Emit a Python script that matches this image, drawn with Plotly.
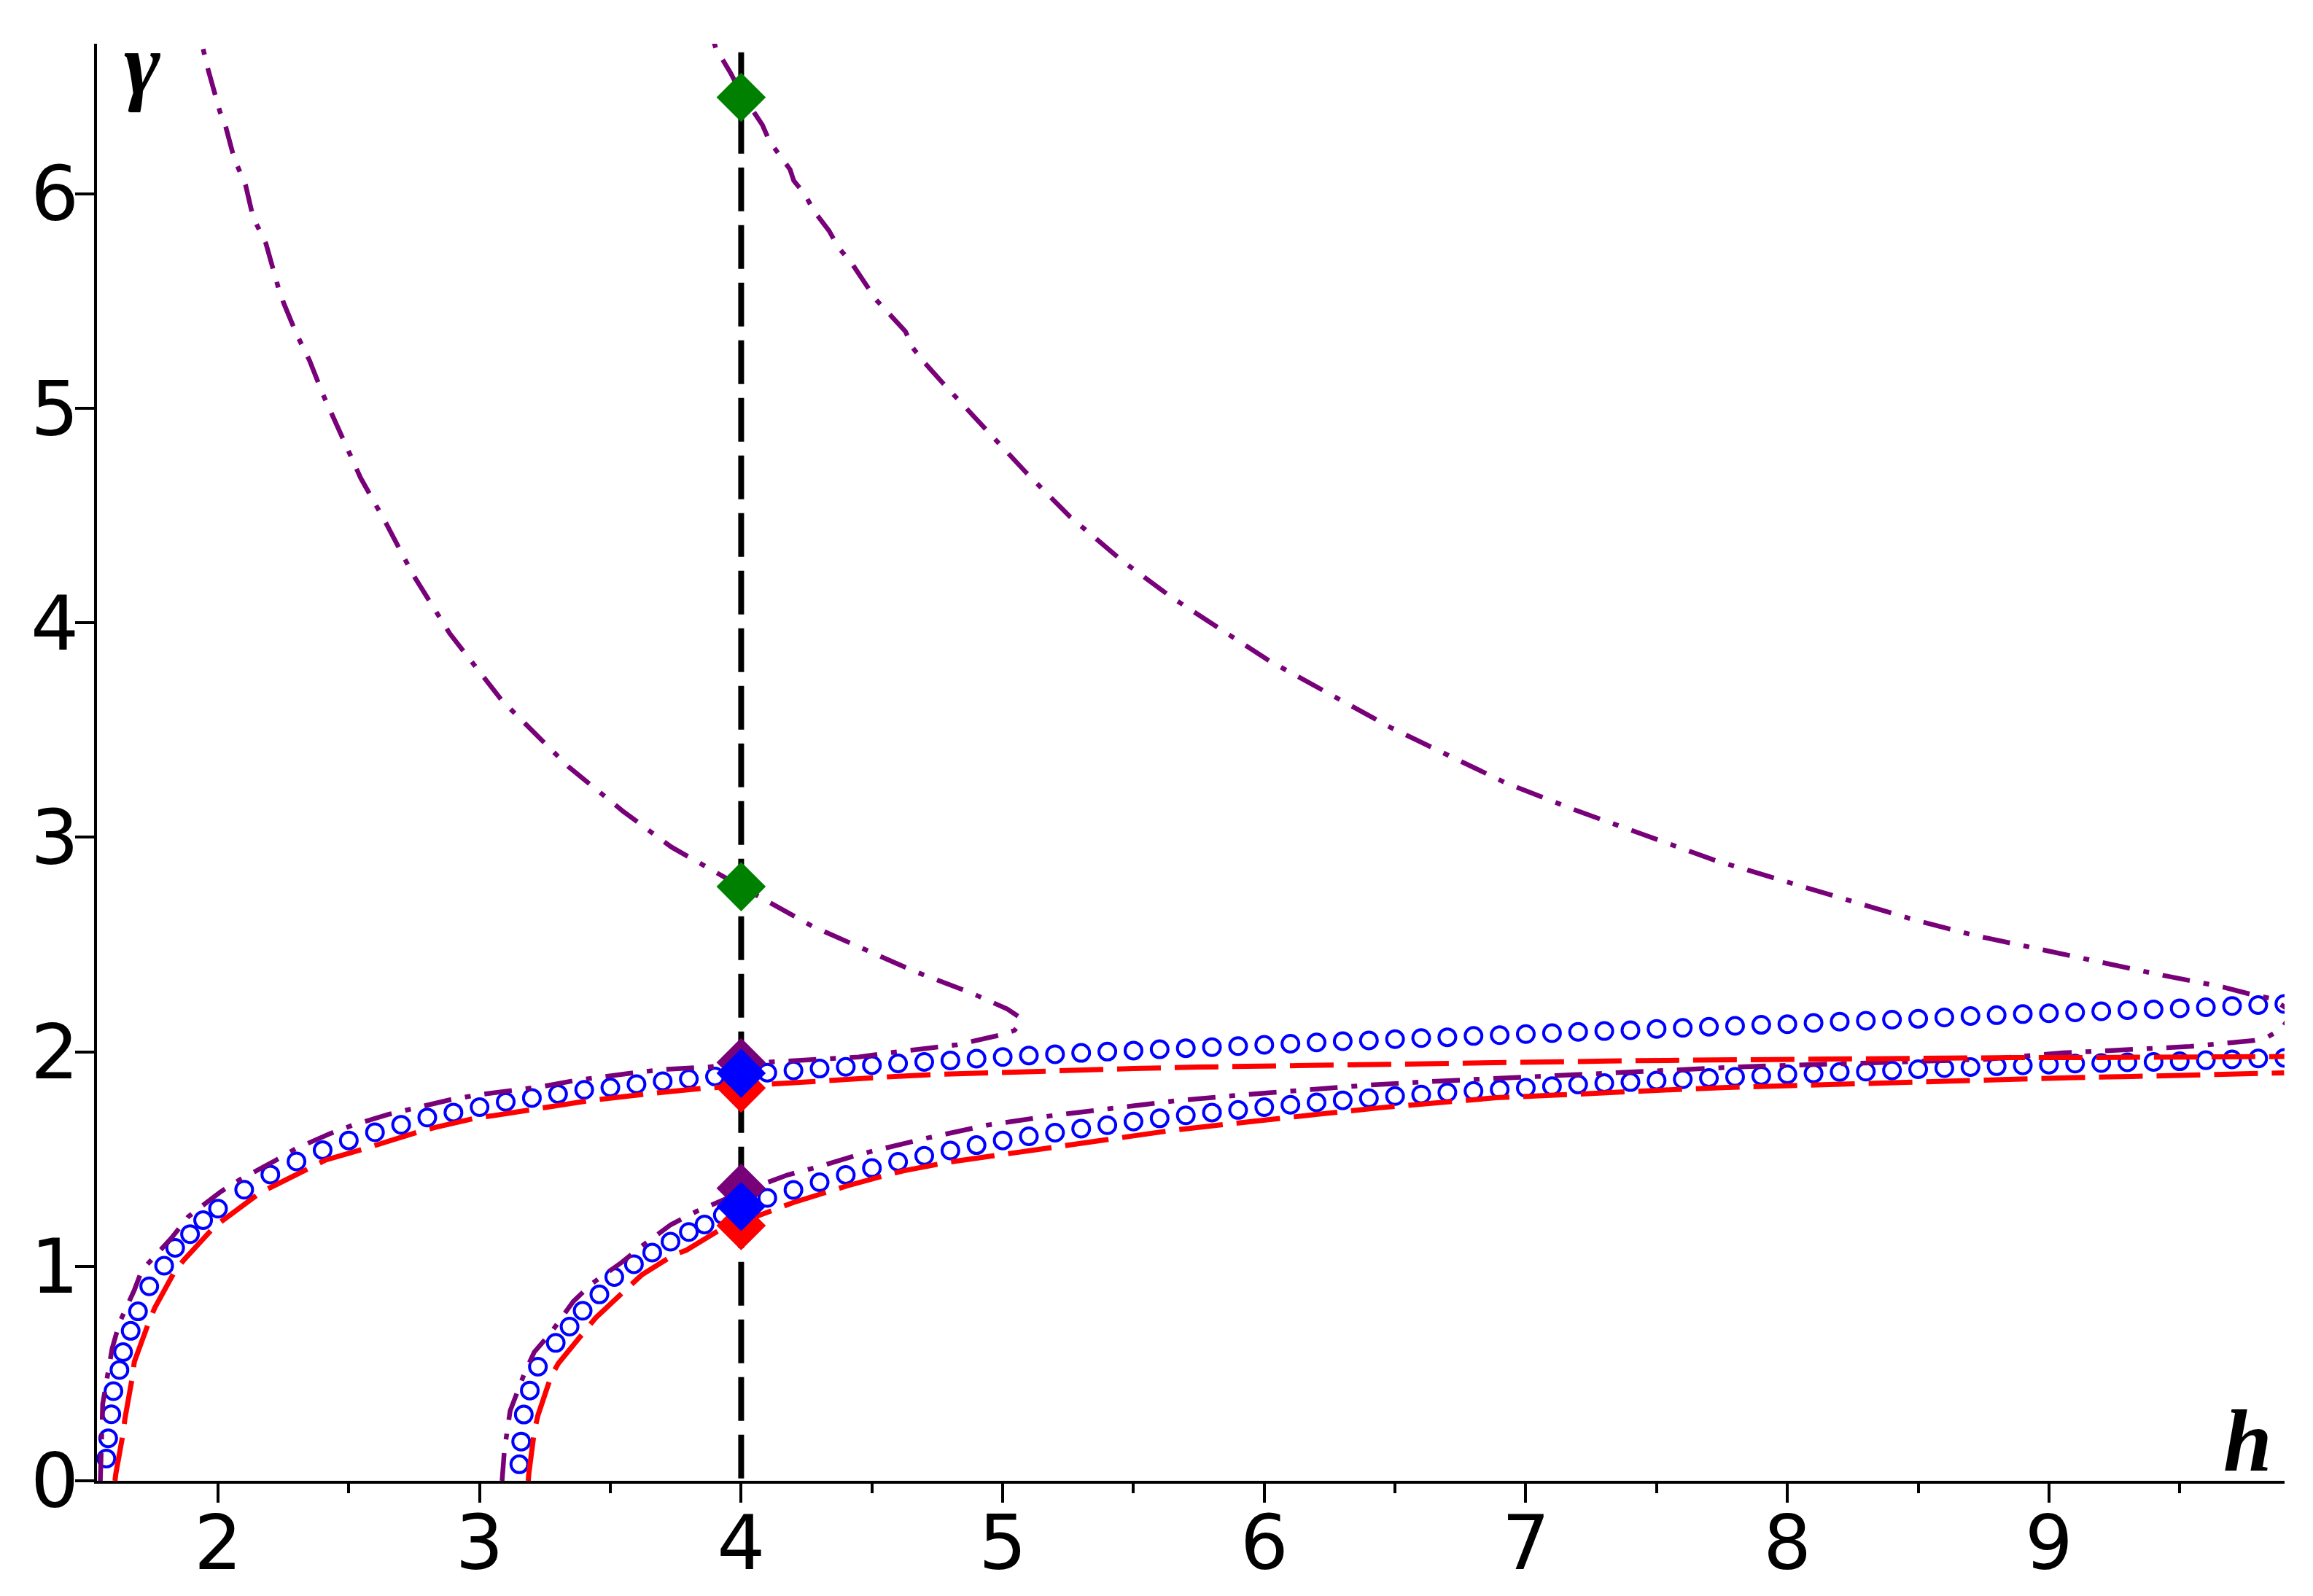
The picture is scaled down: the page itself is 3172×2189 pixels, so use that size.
import plotly.graph_objects as go

# ---------------- data ----------------
# blue open circles, branch 1
H_BLUE1 = [1.573, 1.580, 1.592, 1.600, 1.623, 1.637, 1.666, 1.694, 1.737, 1.794, 1.836, 1.893, 1.943,
           2.0, 2.1, 2.2, 2.3, 2.4, 2.5, 2.6, 2.7, 2.8, 2.9,
           3.0, 3.1, 3.2, 3.3, 3.4, 3.5, 3.6, 3.7, 3.8, 3.9,
           4.0, 4.1, 4.2, 4.3, 4.4, 4.5, 4.6, 4.7, 4.8, 4.9,
           5.0, 5.1, 5.2, 5.3, 5.4, 5.5, 5.6, 5.7, 5.8, 5.9,
           6.0, 6.1, 6.2, 6.3, 6.4, 6.5, 6.6, 6.7, 6.8, 6.9,
           7.0, 7.1, 7.2, 7.3, 7.4, 7.5, 7.6, 7.7, 7.8, 7.9,
           8.0, 8.1, 8.2, 8.3, 8.4, 8.5, 8.6, 8.7, 8.8, 8.9,
           9.0, 9.1, 9.2, 9.3, 9.4, 9.5, 9.6, 9.7, 9.8, 9.9]
G_BLUE1 = [0.104, 0.198, 0.310, 0.418, 0.517, 0.600, 0.699, 0.790, 0.907, 1.003, 1.086, 1.150, 1.215,
           1.269, 1.357, 1.428, 1.489, 1.542, 1.587, 1.625, 1.660, 1.694, 1.717,
           1.742, 1.767, 1.785, 1.803, 1.823, 1.834, 1.849, 1.863, 1.874, 1.885,
           1.895, 1.903, 1.913, 1.922, 1.930, 1.938, 1.946, 1.953, 1.960, 1.968,
           1.976, 1.983, 1.989, 1.995, 2.001, 2.006, 2.012, 2.017, 2.022, 2.027,
           2.033, 2.038, 2.044, 2.050, 2.053, 2.059, 2.064, 2.068, 2.074, 2.078,
           2.083, 2.087, 2.093, 2.097, 2.101, 2.107, 2.112, 2.117, 2.121, 2.126,
           2.129, 2.135, 2.141, 2.145, 2.150, 2.154, 2.160, 2.167, 2.171, 2.176,
           2.180, 2.184, 2.189, 2.194, 2.198, 2.203, 2.208, 2.214, 2.218, 2.223]

# blue open circles, branch 2
H_BLUE2 = [3.152, 3.159, 3.169, 3.192, 3.223, 3.291, 3.344, 3.394, 3.458, 3.515, 3.590, 3.660, 3.730, 3.800, 3.860, 3.930,
           4.0, 4.1, 4.2, 4.3, 4.4, 4.5, 4.6, 4.7, 4.8, 4.9,
           5.0, 5.1, 5.2, 5.3, 5.4, 5.5, 5.6, 5.7, 5.8, 5.9,
           6.0, 6.1, 6.2, 6.3, 6.4, 6.5, 6.6, 6.7, 6.8, 6.9,
           7.0, 7.1, 7.2, 7.3, 7.4, 7.5, 7.6, 7.7, 7.8, 7.9,
           8.0, 8.1, 8.2, 8.3, 8.4, 8.5, 8.6, 8.7, 8.8, 8.9,
           9.0, 9.1, 9.2, 9.3, 9.4, 9.5, 9.6, 9.7, 9.8, 9.9]
G_BLUE2 = [0.077, 0.183, 0.309, 0.421, 0.532, 0.643, 0.719, 0.793, 0.869, 0.950, 1.010, 1.064, 1.115, 1.160, 1.195, 1.239,
           1.279, 1.319, 1.356, 1.392, 1.426, 1.458, 1.487, 1.515, 1.540, 1.565,
           1.587, 1.606, 1.623, 1.642, 1.658, 1.675, 1.690, 1.704, 1.717, 1.729,
           1.742, 1.753, 1.764, 1.774, 1.784, 1.794, 1.801, 1.811, 1.818, 1.825,
           1.832, 1.840, 1.848, 1.854, 1.859, 1.866, 1.872, 1.878, 1.883, 1.888,
           1.895, 1.899, 1.906, 1.908, 1.913, 1.919, 1.924, 1.929, 1.933, 1.937,
           1.940, 1.945, 1.948, 1.951, 1.953, 1.956, 1.961, 1.965, 1.969, 1.972]

# red dashed, branch 1
H_RED1 = [1.606, 1.609, 1.637, 1.644, 1.673, 1.680, 1.737, 1.758, 1.836, 1.872, 1.986, 2.028, 2.163, 2.213,
          2.356, 2.412, 2.562, 2.619, 2.775, 2.832, 2.996, 3.045, 3.209, 3.266, 3.422, 3.486, 3.607, 3.703,
          3.866, 4.000, 4.140, 4.307, 4.450, 4.600, 4.750, 5.000, 5.250, 5.500, 5.750, 6.000, 6.210, 6.430,
          6.650, 6.870, 7.090, 7.314, 7.534, 7.754, 7.974, 8.195, 8.416, 8.668, 8.860, 9.080, 9.300, 9.520,
          9.740, 9.900]
G_RED1 = [0.000, 0.031, 0.221, 0.289, 0.487, 0.555, 0.745, 0.806, 0.980, 1.033, 1.185, 1.223, 1.345, 1.375,
          1.466, 1.496, 1.549, 1.572, 1.630, 1.648, 1.694, 1.701, 1.732, 1.747, 1.773, 1.782, 1.800, 1.812,
          1.831, 1.842, 1.851, 1.863, 1.874, 1.886, 1.895, 1.905, 1.914, 1.922, 1.929, 1.934, 1.940, 1.944,
          1.948, 1.951, 1.955, 1.957, 1.960, 1.963, 1.966, 1.968, 1.969, 1.970, 1.973, 1.973, 1.975, 1.976,
          1.978, 1.978]

# red dashed, branch 2
H_RED2 = [3.186, 3.188, 3.209, 3.223, 3.273, 3.301, 3.408, 3.444, 3.564, 3.620, 3.740, 3.790, 3.920, 4.000,
          4.074, 4.196, 4.350, 4.405, 4.563, 4.620, 4.785, 5.001, 5.217, 5.441, 5.654, 5.851, 6.010, 6.229,
          6.448, 6.669, 6.888, 7.110, 7.329, 7.550, 7.770, 7.991, 8.212, 8.432, 8.676, 8.874, 9.095, 9.315,
          9.536, 9.755, 9.899]
G_RED2 = [0.000, 0.031, 0.229, 0.305, 0.487, 0.547, 0.707, 0.760, 0.897, 0.960, 1.052, 1.075, 1.171, 1.205,
          1.240, 1.296, 1.357, 1.375, 1.428, 1.445, 1.484, 1.522, 1.558, 1.598, 1.635, 1.662, 1.681, 1.712,
          1.740, 1.766, 1.786, 1.798, 1.812, 1.823, 1.834, 1.842, 1.851, 1.859, 1.868, 1.874, 1.880, 1.885,
          1.891, 1.897, 1.902]

# purple dash-dot, branch 1 (lower part, fold near h=5.07, upper part)
H_PURPLE1 = [1.550, 1.553, 1.559, 1.595, 1.623, 1.680, 1.708, 1.822, 1.886, 2.007, 2.085, 2.213, 2.298,
             2.427, 2.519, 2.654, 2.754, 2.889, 2.996, 3.131, 3.238, 3.373, 3.440, 3.614, 3.720, 3.880,
             4.000, 4.150, 4.340, 4.450, 4.577, 4.690, 4.825, 4.993, 5.045, 5.065, 5.060, 5.017, 4.881,
             4.657, 4.433, 4.273, 4.000, 3.733, 3.550, 3.338, 3.084, 2.886, 2.745, 2.640, 2.545, 2.500,
             2.447, 2.399, 2.350, 2.301, 2.252, 2.232, 2.183, 2.134, 2.105, 2.062, 2.027, 2.007, 1.958,
             1.933]
G_PURPLE1 = [0.000, 0.150, 0.358, 0.616, 0.737, 0.889, 0.980, 1.132, 1.231, 1.345, 1.405, 1.489, 1.549,
             1.618, 1.660, 1.709, 1.739, 1.777, 1.800, 1.823, 1.838, 1.868, 1.880, 1.906, 1.919, 1.930,
             1.945, 1.956, 1.966, 1.976, 1.997, 2.015, 2.033, 2.079, 2.100, 2.130, 2.165, 2.200, 2.274,
             2.378, 2.496, 2.585, 2.770, 2.955, 3.120, 3.331, 3.640, 3.950, 4.226, 4.470, 4.676, 4.798,
             4.949, 5.071, 5.223, 5.344, 5.488, 5.557, 5.769, 5.891, 6.043, 6.164, 6.324, 6.384, 6.597,
             6.729]

# purple dash-dot, branch 2 (lower part, fold near h=9.9, upper part)
H_PURPLE2 = [3.086, 3.088, 3.095, 3.117, 3.174, 3.209, 3.273, 3.358, 3.429, 3.543, 3.624, 3.731, 3.829,
             4.000, 4.177, 4.283, 4.465, 4.700, 4.939, 5.179, 5.420, 5.662, 5.902, 6.144, 6.387, 6.628,
             6.872, 7.114, 7.357, 7.598, 7.840, 8.084, 8.328, 8.565, 8.755, 9.053, 9.296, 9.539, 9.780,
             9.833, 9.889, 9.922, 9.922, 9.852, 9.782, 9.666, 9.426, 9.191, 8.952, 8.715, 8.480, 8.286,
             7.986, 7.720, 7.454, 7.187, 6.921, 6.705, 6.488, 6.255, 6.022, 5.823, 5.640, 5.456, 5.257,
             5.090, 4.924, 4.863, 4.814, 4.771, 4.699, 4.657, 4.628, 4.557, 4.514, 4.472, 4.422, 4.372,
             4.336, 4.279, 4.244, 4.201, 4.187, 4.109, 4.081, 4.000, 3.960, 3.903, 3.890]
G_PURPLE2 = [0.000, 0.031, 0.145, 0.327, 0.509, 0.600, 0.691, 0.836, 0.919, 1.018, 1.098, 1.194, 1.256,
             1.345, 1.426, 1.460, 1.526, 1.595, 1.658, 1.701, 1.739, 1.772, 1.798, 1.823, 1.844, 1.861,
             1.876, 1.891, 1.906, 1.919, 1.931, 1.940, 1.948, 1.957, 1.965, 1.995, 2.008, 2.025, 2.052,
             2.067, 2.107, 2.163, 2.192, 2.248, 2.265, 2.302, 2.359, 2.418, 2.478, 2.543, 2.617, 2.689,
             2.796, 2.894, 3.011, 3.128, 3.255, 3.382, 3.509, 3.665, 3.821, 3.978, 4.124, 4.290, 4.495,
             4.700, 4.915, 4.995, 5.060, 5.118, 5.216, 5.281, 5.359, 5.457, 5.509, 5.587, 5.678, 5.750,
             5.828, 5.919, 5.997, 6.062, 6.114, 6.244, 6.322, 6.470, 6.563, 6.680, 6.730]

# vertical reference line and diamond markers at h = 4
H_REF = 4.0
G_VLINE = [6.66, 0.0]
G_GREEN_D = [6.45, 2.77]
G_PURPLE_D = [1.950, 1.364]
G_RED_D = [1.831, 1.190]
G_BLUE_D = [1.900, 1.279]

X_TICKS = [2, 3, 4, 5, 6, 7, 8, 9]
X_MINOR = [2.5, 3.5, 4.5, 5.5, 6.5, 7.5, 8.5, 9.5]
Y_TICKS = [0, 1, 2, 3, 4, 5, 6]
X_RANGE = [1.5372, 9.9008]
Y_RANGE = [0.0, 6.70]

# ---------------- styles ----------------
PURPLE = "#780078"
RED = "#ff0000"
BLUE = "#0000ff"
GREEN = "#008000"
RED_DASH = "60px,19px"
PURPLE_DASH = "38px,19px,8px,19px"

fig = go.Figure()

fig.add_trace(go.Scatter(x=[H_REF] * len(G_VLINE), y=G_VLINE, mode="lines",
                         line=dict(color="black", width=8, dash="60px,19px")))

for hx, gy in [(H_BLUE1, G_BLUE1), (H_BLUE2, G_BLUE2)]:
    fig.add_trace(go.Scatter(x=hx, y=gy, mode="markers",
                             marker=dict(symbol="circle-open", size=23, color=BLUE,
                                         line=dict(width=4, color=BLUE))))

for hx, gy in [(H_PURPLE1, G_PURPLE1), (H_PURPLE2, G_PURPLE2)]:
    fig.add_trace(go.Scatter(x=hx, y=gy, mode="lines",
                             line=dict(color=PURPLE, width=6.5, dash=PURPLE_DASH)))

for hx, gy in [(H_RED1, G_RED1), (H_RED2, G_RED2)]:
    fig.add_trace(go.Scatter(x=hx, y=gy, mode="lines",
                             line=dict(color=RED, width=7, dash=RED_DASH)))

for gy, col in [(G_PURPLE_D, PURPLE), (G_RED_D, RED), (G_BLUE_D, BLUE), (G_GREEN_D, GREEN)]:
    fig.add_trace(go.Scatter(x=[H_REF] * len(gy), y=gy, mode="markers", cliponaxis=False,
                             marker=dict(symbol="diamond", size=52, color=col, line=dict(width=0))))

axis_common = dict(showline=True, linecolor="black", linewidth=4, ticks="outside",
                   tickcolor="black", tickwidth=4, ticklen=26, showgrid=False, zeroline=False,
                   automargin=False,
                   tickfont=dict(family="DejaVu Sans", size=104, color="black"))

fig.update_layout(
    width=3172, height=2189,
    margin=dict(l=133, r=39, t=60, b=158, pad=0),
    plot_bgcolor="white", paper_bgcolor="white",
    showlegend=False,
    xaxis=dict(range=X_RANGE, tickvals=X_TICKS, ticktext=[str(v) for v in X_TICKS],
               ticklabelstandoff=-34,
               minor=dict(tickvals=X_MINOR, ticks="outside", ticklen=13, tickwidth=4, tickcolor="black"),
               **axis_common),
    yaxis=dict(range=Y_RANGE, tickvals=Y_TICKS, ticktext=[str(v) for v in Y_TICKS],
               ticklabelstandoff=-26, **axis_common),
    annotations=[
        dict(text="<b><i>γ</i></b>", xref="paper", yref="paper", x=0.0207, y=0.9860,
             xanchor="center", yanchor="middle", showarrow=False,
             font=dict(family="Liberation Serif", size=120, color="black")),
        dict(text="<b><i>h</i></b>", xref="paper", yref="paper", x=0.9833, y=0.0275,
             xanchor="center", yanchor="middle", showarrow=False,
             font=dict(family="Liberation Serif", size=120, color="black")),
    ],
)

fig.write_html("out.html", config=dict(displayModeBar=False),
               post_script="document.body.style.margin='0';")
